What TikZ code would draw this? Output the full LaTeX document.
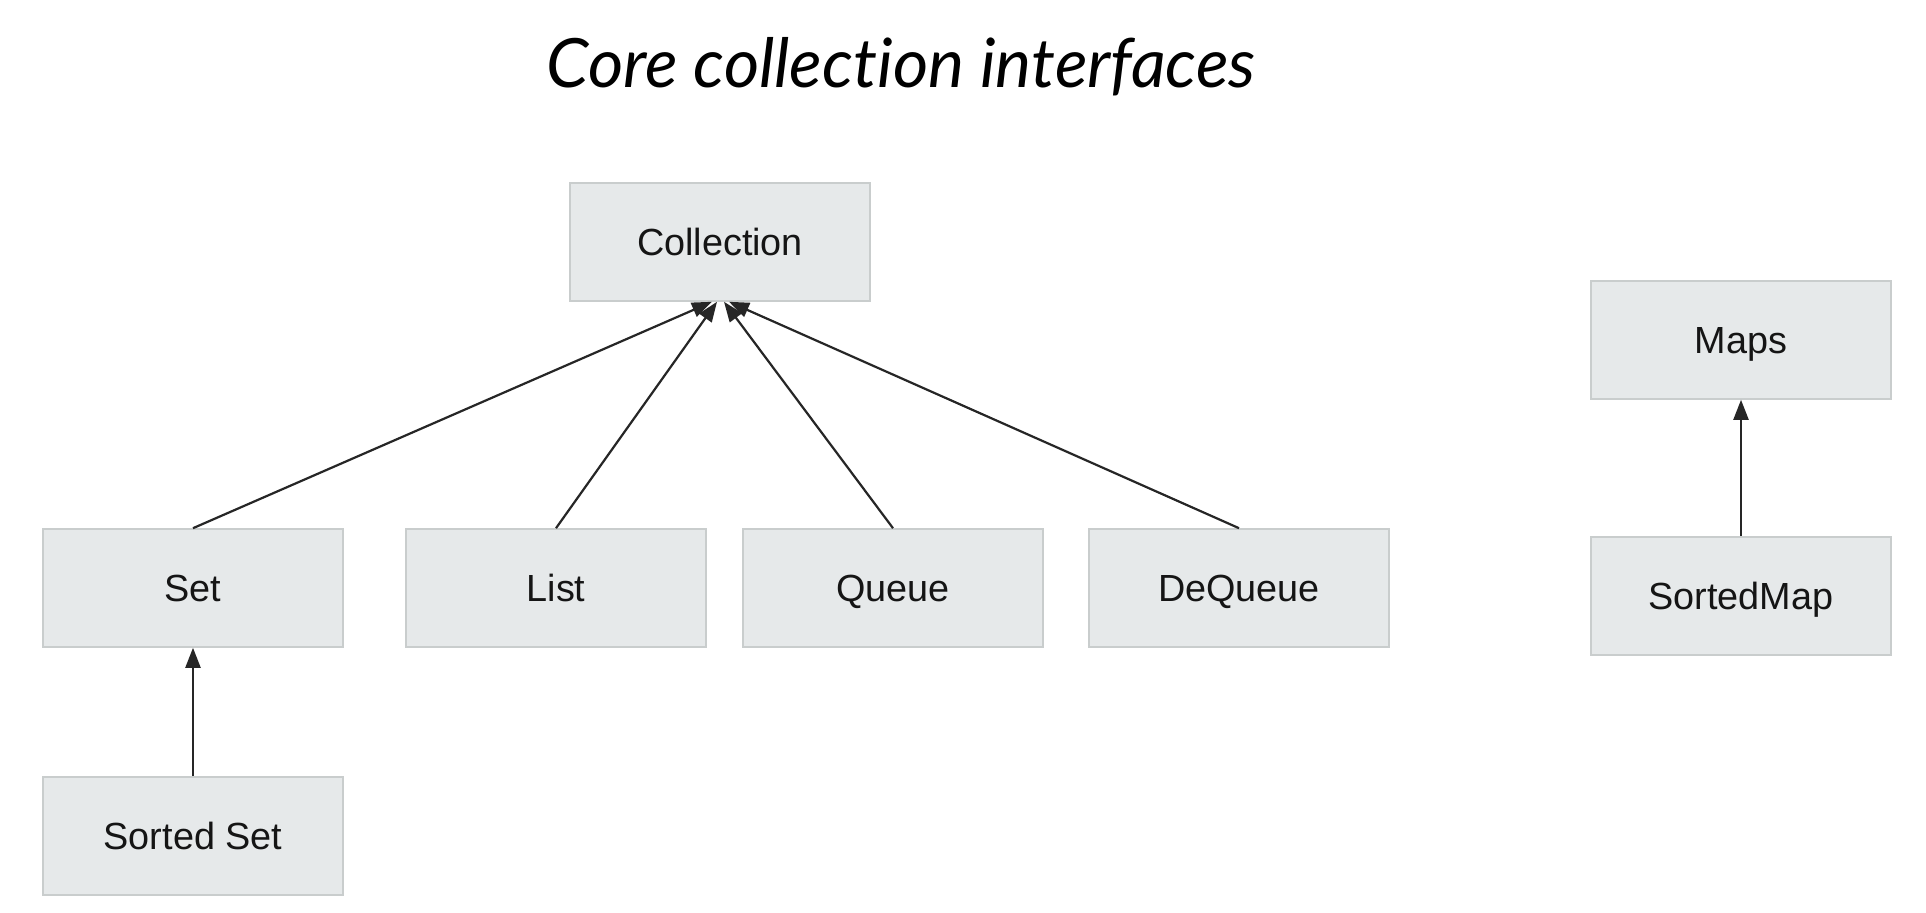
\documentclass[tikz,border=0pt]{standalone}
\usepackage{fontspec}
\setmainfont{Liberation Sans}
\newfontfamily\titlefont[Ligatures=NoCommon]{Lato}
\usetikzlibrary{arrows.meta,calc}
\definecolor{boxfill}{HTML}{E6E9EA}
\definecolor{boxline}{HTML}{C9CDCD}
\definecolor{inkc}{HTML}{262626}
\definecolor{textc}{HTML}{151515}
\tikzset{
  iface/.style={draw=boxline, line width=0.8pt, fill=boxfill, minimum width=150pt, minimum height=59pt, inner sep=0pt, text height=13.5pt, text depth=0pt, font=\fontsize{18.9}{22}\selectfont, text=textc},
  inherit/.style={draw=inkc, line width=1.1pt, -{Triangle[length=10pt,width=7.5pt]}}
}
\begin{document}
\begin{tikzpicture}[x=0.5pt,y=-0.5pt]
\useasboundingbox[fill=white] (0,0) rectangle (1926,913);
\node[anchor=base, font=\titlefont\itshape\fontsize{34}{40}\selectfont, text=black] (title) at (901,88) {Core collection interfaces};
\node[iface] (coll) at (720,242) {Collection};
\node[iface] (set) at (193,588) {Set};
\node[iface] (list) at (556,588) {List};
\node[iface] (queue) at (893,588) {Queue};
\node[iface] (deq) at (1239,588) {DeQueue};
\node[iface] (sset) at (193,836) {Sorted Set};
\node[iface] (maps) at (1741,340) {Maps};
\node[iface] (smap) at (1741,596) {SortedMap};
\coordinate (c1) at ($(coll.south)+(-8,0)$);
\coordinate (c2) at ($(coll.south)+(-3,0)$);
\coordinate (c3) at ($(coll.south)+(4,0)$);
\coordinate (c4) at ($(coll.south)+(9,0)$);
\draw[inherit] (set.north) -- (c1);
\draw[inherit] (list.north) -- (c2);
\draw[inherit] (queue.north) -- (c3);
\draw[inherit] (deq.north) -- (c4);
\draw[inherit] (sset.north) -- (set.south);
\draw[inherit] (smap.north) -- (maps.south);
\end{tikzpicture}
\end{document}
